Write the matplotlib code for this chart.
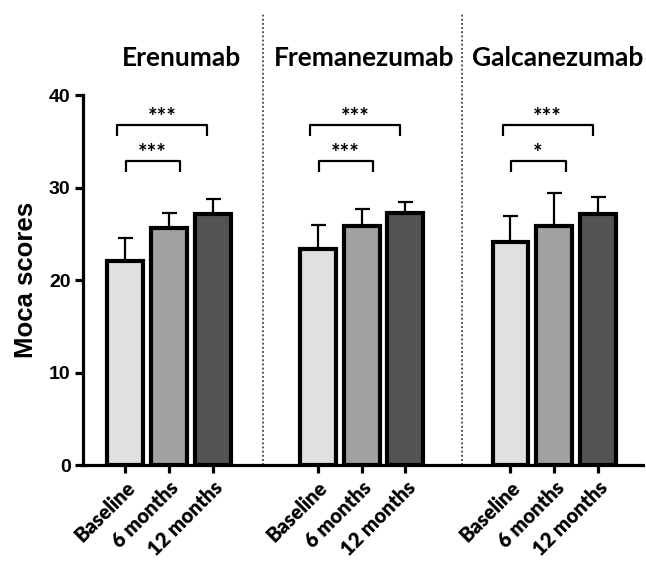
import numpy as np
import matplotlib
matplotlib.use("Agg")
import matplotlib.pyplot as plt

# data
drugs = ["Erenumab", "Fremanezumab", "Galcanezumab"]
timepoints = ["Baseline", "6 months", "12 months"]
means = [
    [22.1, 25.6, 27.2],   # Erenumab
    [23.4, 25.9, 27.3],   # Fremanezumab
    [24.1, 25.8, 27.2],   # Galcanezumab
]
sd_upper = [
    [2.5, 1.7, 1.6],
    [2.6, 1.8, 1.2],
    [2.8, 3.6, 1.8],
]
sig_top = ["***", "***", "***"]      # baseline vs 12 months
sig_low = ["***", "***", "*"]        # baseline vs 6 months
yticks = [0, 10, 20, 30, 40]

colors = ["#e1e0e1", "#a2a1a2", "#545354"]
group_step = 4.4

fig = plt.figure(figsize=(6.46, 5.66), dpi=100)
ax = fig.add_axes([0.1285, 0.178, 0.8665, 0.654])

xpos_all, labels_all = [], []
for g, drug in enumerate(drugs):
    xs = g * group_step + np.arange(3)
    ax.errorbar(xs, means[g], yerr=[np.zeros(3), sd_upper[g]], fmt="none",
                ecolor="black", elinewidth=1.6, capsize=5.4, capthick=1.6, zorder=1)
    ax.bar(xs, means[g], width=0.82, color=colors, edgecolor="black",
           linewidth=3.0, zorder=2)
    xpos_all.extend(xs)
    labels_all.extend(timepoints)

    x0 = xs[0]
    # upper bracket: baseline vs 12 months
    ax.plot([x0 - 0.18, x0 - 0.18, x0 + 1.88, x0 + 1.88], [35.6, 36.75, 36.75, 35.6],
            color="black", lw=1.6, clip_on=False, solid_capstyle="butt")
    ax.text(x0 + 0.85, 36.9, sig_top[g], ha="center", va="baseline", fontsize=16,
            family="Lato", fontweight="bold")
    # lower bracket: baseline vs 6 months
    ax.plot([x0 + 0.02, x0 + 0.02, x0 + 1.26, x0 + 1.26], [31.7, 32.9, 32.9, 31.7],
            color="black", lw=1.6, clip_on=False, solid_capstyle="butt")
    ax.text(x0 + 0.63, 32.95, sig_low[g], ha="center", va="baseline", fontsize=16,
            family="Lato", fontweight="bold")

# drug titles
title_off = [1.3, 1.06, 1.08]
for g, drug in enumerate(drugs):
    ax.text(g * group_step + title_off[g], 44.0, drug, ha="center", va="center",
            fontsize=19, family="Lato", fontweight="bold", clip_on=False)

# dotted separators
for xd in [3.16, 7.69]:
    ax.axvline(xd, ymin=0, ymax=1.222, color="#444444", ls=(0, (1, 1.3)), lw=1.3,
               clip_on=False, zorder=0)

ax.set_xlim(-0.96, 11.82)
ax.set_ylim(0, 40)
ax.set_yticks(yticks)
ax.set_yticklabels([str(t) for t in yticks], family="Liberation Sans",
                   fontweight="bold", fontsize=14)
ax.set_xticks(xpos_all)
ax.set_xticklabels(labels_all, rotation=45, ha="right", rotation_mode="anchor",
                   family="Lato", fontweight="heavy", fontsize=14.5)
ax.set_ylabel("Moca scores", family="Liberation Sans", fontweight="bold",
              fontsize=18.5, labelpad=8)

for s in ["top", "right"]:
    ax.spines[s].set_visible(False)
for s in ["left", "bottom"]:
    ax.spines[s].set_linewidth(2.3)
ax.tick_params(axis="both", width=2.3, length=6, direction="out", pad=3)

fig.savefig("out.png", dpi=100)
